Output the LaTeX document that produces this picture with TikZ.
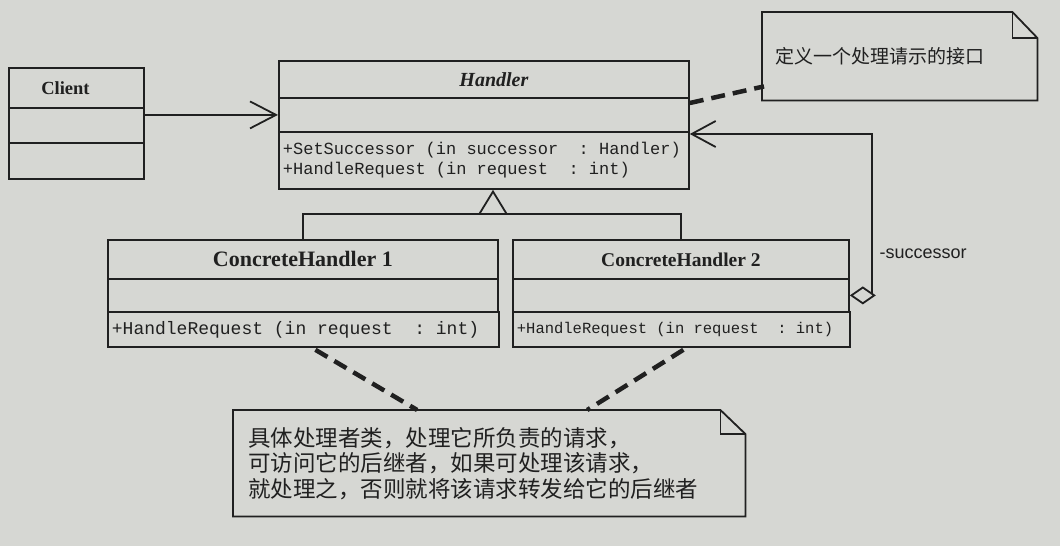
\documentclass[tikz,border=0pt]{standalone}
\usepackage{fontspec}
\setmainfont{Liberation Serif}
\setsansfont{Liberation Sans}
\setmonofont{Liberation Mono}
\newfontfamily\cjk{Noto Sans CJK SC}
\usetikzlibrary{arrows.meta,calc}
\newcommand\msp{\hspace*{0.6em}}
\definecolor{bg}{RGB}{214,215,211}
\definecolor{ink}{RGB}{32,32,32}
\tikzset{
  box/.style={draw=ink, line width=1.8pt, rectangle, inner sep=0pt, anchor=north west, text=ink},
  opsbox/.style={box, align=left, inner xsep=4pt, font=\ttfamily},
  notebox/.style={rectangle, inner sep=0pt, anchor=north west, align=left, text=ink},
  noteline/.style={draw=ink, line width=1.8pt, fill=bg, line join=miter},
  notelink/.style={draw=ink, line width=4.5pt, dash pattern=on 14pt off 8pt},
  assoc/.style={draw=ink, line width=1.8pt, -{Straight Barb[length=26pt,width=27pt]}},
  link/.style={draw=ink, line width=1.8pt},
}
\begin{document}
\begin{tikzpicture}[x=1pt,y=-1pt]
\useasboundingbox[fill=bg] (0,0) rectangle (1060,546);

% Client
\node[box, minimum width=135pt, minimum height=40pt, font=\fontsize{18.5}{20}\selectfont\bfseries] (clientN) at (8,67) {Client\hspace*{22pt}};
\node[box, minimum width=135pt, minimum height=35pt] (clientA) at (8,107) {};
\node[box, minimum width=135pt, minimum height=36pt] (clientO) at (8,142) {};

% Handler
\node[box, minimum width=410pt, minimum height=37pt, font=\fontsize{20}{22}\selectfont\bfseries\itshape] (handlerN) at (278,60) {\hspace*{20pt}Handler};
\node[box, minimum width=410pt, minimum height=34pt] (handlerA) at (278,97) {};
\node[opsbox, minimum width=410pt, minimum height=57pt, text width=402pt, font=\fontsize{17}{20}\selectfont\ttfamily] (handlerO) at (278,131) {+SetSuccessor\msp(in\msp successor\msp\msp:\msp Handler)\\+HandleRequest\msp(in\msp request\msp\msp:\msp int)};

% ConcreteHandler 1
\node[box, minimum width=390pt, minimum height=39pt, font=\fontsize{22}{24}\selectfont\bfseries] (ch1N) at (107,239) {ConcreteHandler 1};
\node[box, minimum width=390pt, minimum height=33pt] (ch1A) at (107,278) {};
\node[opsbox, minimum width=390pt, minimum height=35pt, text width=383pt, font=\fontsize{18}{20}\selectfont\ttfamily] (ch1O) at (107,311) {+HandleRequest\msp(in\msp request\msp\msp:\msp int)};

% ConcreteHandler 2
\node[box, minimum width=336pt, minimum height=39pt, font=\fontsize{19.5}{21}\selectfont\bfseries] (ch2N) at (512,239) {ConcreteHandler 2};
\node[box, minimum width=336pt, minimum height=33pt] (ch2A) at (512,278) {};
\node[opsbox, minimum width=336pt, minimum height=35pt, text width=329pt, font=\fontsize{15.5}{18}\selectfont\ttfamily] (ch2O) at (512,311) {+HandleRequest\msp(in\msp request\msp\msp:\msp int)};

% Note frames (geometry) and outlines with folded corner
\node[notebox, minimum width=275pt, minimum height=88pt] (note1) at (762,12) {};
\draw[noteline] (note1.north west) -- ($(note1.north east)+(-25,0)$) -- ($(note1.north east)+(0,26)$) -- (note1.south east) -- (note1.south west) -- cycle;
\draw[link, line join=miter] ($(note1.north east)+(-25,0)$) -- ($(note1.north east)+(-25,26)$) -- ($(note1.north east)+(0,26)$);
\node[notebox, text width=250pt, inner xsep=13pt, minimum height=88pt, font=\fontsize{19}{22}\selectfont\cjk] (note1t) at (762,12) {定义一个处理请示的接口};

\node[notebox, minimum width=512pt, minimum height=106pt] (note2) at (233,410) {};
\draw[noteline] (note2.north west) -- ($(note2.north east)+(-25,0)$) -- ($(note2.north east)+(0,24)$) -- (note2.south east) -- (note2.south west) -- cycle;
\draw[link, line join=miter] ($(note2.north east)+(-25,0)$) -- ($(note2.north east)+(-25,24)$) -- ($(note2.north east)+(0,24)$);
\node[notebox, text width=490pt, inner xsep=15pt, minimum height=106pt, font=\fontsize{22.5}{25.5}\selectfont\cjk] (note2t) at (233,410) {具体处理者类，处理它所负责的请求，\\可访问它的后继者，如果可处理该请求，\\就处理之，否则就将该请求转发给它的后继者};

% Association Client -> Handler
\draw[assoc] (clientA.north east |- handlerA.west) -- (handlerA.west);

% Generalization
\coordinate (gj) at (493,214);
\draw[link, -{Triangle[open, length=25pt, width=30pt, fill=bg]}] (gj) -- (gj |- handlerO.south);
\draw[link] (ch1N.north) |- (gj) -| (ch2N.north);

% Aggregation successor
\coordinate (succ) at ($(handlerO.north east)+(0,3)$);
\draw[link, {Diamond[open, length=26pt, width=18pt, fill=bg]}-{Straight Barb[length=24pt,width=26pt]}] (ch2A.east) -- ++(22,0) coordinate (sc) |- (succ);
\node[font=\fontsize{18}{20}\selectfont\sffamily, text=ink, anchor=west] (succlabel) at (876,254) {-successor};

% Dashed note links
\draw[notelink] ($(handlerA.north east)+(0,6)$) -- ($(note1.south west)+(2,-14)$);
\draw[notelink] ($(ch1O.south)+(12,2)$) -- ($(note2.north)+(-72,0)$);
\draw[notelink] ($(ch2O.south)+(2,2)$) -- ($(note2.north)+(98,0)$);
\end{tikzpicture}
\end{document}
